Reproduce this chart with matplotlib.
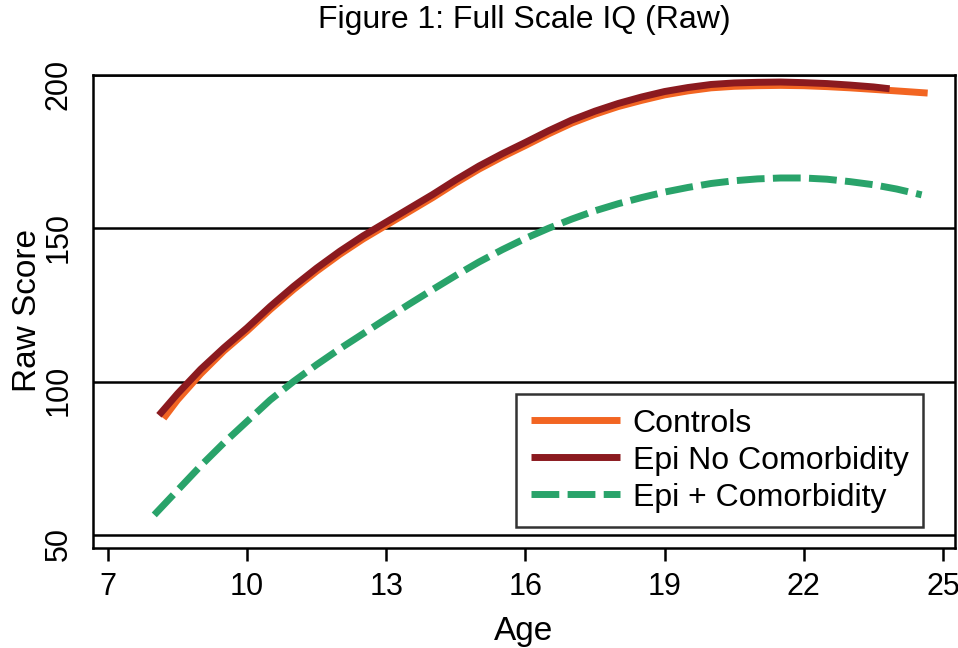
import matplotlib
matplotlib.use("Agg")
import matplotlib.pyplot as plt
from matplotlib.transforms import ScaledTranslation

plt.rcParams['font.family'] = ['Liberation Sans', 'DejaVu Sans']

# Valeurs (tous les demi-ans)
age_ctrl = [8.2, 8.5, 9, 9.5, 10, 10.5, 11, 11.5, 12, 12.5, 13, 13.5, 14, 14.5, 15, 15.5,
            16, 16.5, 17, 17.5, 18, 18.5, 19, 19.5, 20, 20.5, 21, 21.5, 22, 22.5, 23,
            23.5, 24, 24.67]
score_ctrl = [88, 94, 102.5, 110, 116.5, 123.5, 130, 136, 141.5, 146.5, 151, 155.5, 160,
              164.8, 169.3, 173.3, 177, 180.8, 184.3, 187.2, 189.7, 191.7, 193.5, 194.8,
              195.8, 196.3, 196.5, 196.6, 196.5, 196.2, 195.8, 195.3, 194.8, 194.1]

age_nocom = [8.1, 8.5, 9, 9.5, 10, 10.5, 11, 11.5, 12, 12.5, 13, 13.5, 14, 14.5, 15, 15.5,
             16, 16.5, 17, 17.5, 18, 18.5, 19, 19.5, 20, 20.5, 21, 21.5, 22, 22.5, 23,
             23.5, 23.85]
score_nocom = [89, 96, 104, 111, 117.5, 124.5, 131, 137, 142.5, 147.5, 152, 156.5, 161,
               165.8, 170.3, 174.3, 178, 181.8, 185.3, 188.2, 190.7, 192.8, 194.6, 195.9,
               196.9, 197.4, 197.6, 197.7, 197.5, 197.2, 196.7, 196.1, 195.5]

age_com = [8.0, 8.5, 9, 9.5, 10, 10.5, 11, 11.5, 12, 12.5, 13, 13.5, 14, 14.5, 15, 15.5,
           16, 16.5, 17, 17.5, 18, 18.5, 19, 19.5, 20, 20.5, 21, 21.5, 22, 22.5, 23,
           23.5, 24, 24.54]
score_com = [56.5, 64.5, 72.5, 80, 87, 94, 100, 105.5, 110.7, 115.6, 120.5, 125.3, 130,
             134.6, 139, 143, 146.7, 150, 153, 155.7, 158, 160, 161.8, 163.3, 164.6, 165.5,
             166.1, 166.4, 166.4, 166, 165.2, 164.2, 162.8, 160.9]

labels = ['Controls', 'Epi No Comorbidity', 'Epi + Comorbidity']
xticks = [7, 10, 13, 16, 19, 22, 25]
yticks = [50, 100, 150, 200]

fig = plt.figure(figsize=(9.58, 6.48), dpi=100)
ax = fig.add_axes([0.0971, 0.1543, 0.8998, 0.7300])

ax.plot(age_ctrl, score_ctrl, '-', color='#F26522', lw=5, label=labels[0],
        solid_capstyle='butt', solid_joinstyle='round', zorder=3)
ax.plot(age_nocom, score_nocom, '-', color='#8B1A1F', lw=5, label=labels[1],
        solid_capstyle='butt', solid_joinstyle='round', zorder=4)
ax.plot(age_com, score_com, '--', color='#29A36A', lw=5, label=labels[2],
        dashes=(4, 1.2), dash_capstyle='butt', zorder=3)

for y in yticks:
    ax.axhline(y, color='black', lw=1.8, zorder=1)

ax.set_xlim(6.68, 25.26)
ax.set_ylim(45.7, 200)
ax.set_xticks(xticks)
ax.set_yticks(yticks)
ax.tick_params(axis='x', direction='out', length=9, width=1.8, labelsize=22, pad=8)
ax.tick_params(axis='y', length=0, labelsize=22, pad=14)
decal = ScaledTranslation(0, -0.09, fig.dpi_scale_trans)
for lab in ax.get_yticklabels():
    lab.set_rotation(90)
    lab.set_va('center')
    lab.set_transform(lab.get_transform() + decal)
for sp in ax.spines.values():
    sp.set_linewidth(1.8)

ax.set_xlabel('Age', fontsize=24, labelpad=10)
ax.set_ylabel('Raw Score', fontsize=24)
ax.yaxis.set_label_coords(-0.058, 0.503)
ax.set_title('Figure 1: Full Scale IQ (Raw)', fontsize=23, pad=34)

leg = ax.legend(loc='lower right', bbox_to_anchor=(0.9629, 0.0444), fontsize=23,
                frameon=True, fancybox=False, edgecolor='black', handlelength=2.8,
                handletextpad=0.4, labelspacing=0.22, borderpad=0.45, borderaxespad=0)
leg.get_frame().set_linewidth(1.8)

plt.savefig('out.png', dpi=100)
